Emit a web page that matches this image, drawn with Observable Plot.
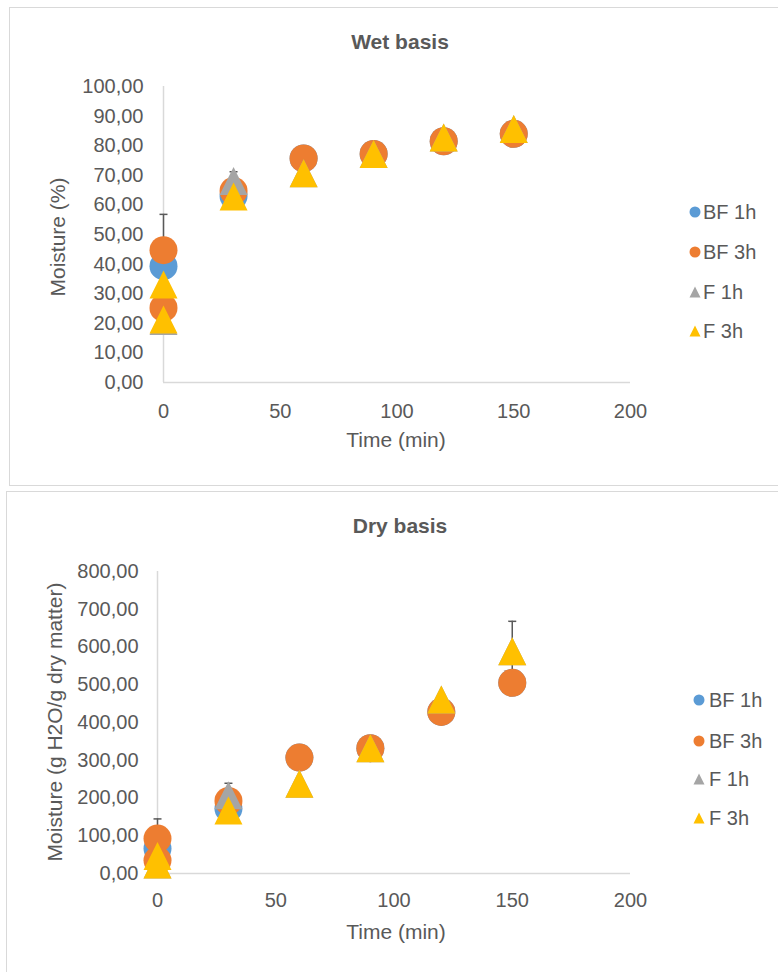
<!DOCTYPE html>
<html>
<head>
<meta charset="utf-8">
<script src="https://cdn.jsdelivr.net/npm/d3@7"></script>
<script src="https://cdn.jsdelivr.net/npm/@observablehq/plot@0.6"></script>
<style>
  html, body { margin: 0; padding: 0; background: #fff; }
  body { width: 778px; height: 972px; overflow: hidden; position: relative;
         font-family: "Liberation Sans", Arial, sans-serif; color: #595959; }
  .box { position: absolute; border: 1.5px solid #d9d9d9; box-sizing: border-box; }
  .txt { position: absolute; white-space: nowrap; line-height: 24px; height: 24px; }
  .plot { position: absolute; left: 0; }
</style>
</head>
<body>
<div class="box" style="left:9px; top:7px; width:800px; height:479px;"></div>
<div class="box" style="left:6px; top:491px; width:800px; height:520px;"></div>
<div id="root"></div>
<script>
// ---------- data ----------
const seriesNames = ["BF 1h", "BF 3h", "F 1h", "F 3h"];
const seriesColors = ["#5B9BD5", "#ED7D31", "#A5A5A5", "#FFC000"];
const seriesShapes = ["circle", "circle", "triangle", "triangle"];

const times = [0, 0, 30, 60, 90, 120, 150];
const xTicks = [0, 50, 100, 150, 200];

// Wet basis (%)
const wetBF1 = [39.3, null, 63.0, 75.7, 77.2, 81.5, 84.0];
const wetBF3 = [44.7, 25.2, 64.7, 75.7, 77.2, 81.5, 84.0];
const wetF1  = [20.8, null, 68.1, 70.7, 77.2, 82.8, 85.6];
const wetF3  = [33.1, 21.3, 62.8, 70.7, 77.2, 82.8, 85.6];
const wetErrBF1 = [null, null, null, null, null, null, null];
const wetErrBF3 = [12.1, null, null, null, null, null, null];
const wetErrF1  = [null, null, 3.1, null, null, null, null];
const wetErrF3  = [null, null, null, null, null, null, null];
const wetYTicks = [0, 10, 20, 30, 40, 50, 60, 70, 80, 90, 100];

// Dry basis (g H2O/g dry matter)
const dryBF1 = [66, null, 172, 307, 332, 428, 505];
const dryBF3 = [92.6, 35, 192, 307, 332, 428, 505];
const dryF1  = [24, null, 207, 238, 332, 461, 589];
const dryF3  = [46.6, 24, 167, 238, 332, 461, 589];
const dryErrBF1 = [null, null, null, null, null, null, null];
const dryErrBF3 = [52, null, null, null, null, null, 163];
const dryErrF1  = [null, null, 32, null, null, null, null];
const dryErrF3  = [null, null, null, null, null, null, null];
const dryYTicks = [0, 100, 200, 300, 400, 500, 600, 700, 800];

// ---------- helpers ----------
const FONT = '"Liberation Sans", Arial, sans-serif';
const fmt = d => d.toFixed(2).replace(".", ",");
const triangle = { draw(ctx, size) { const r = Math.sqrt(size / Math.PI);
  ctx.moveTo(0, -r); ctx.lineTo(r, r); ctx.lineTo(-r, r); ctx.closePath(); } };
const cap = { draw(ctx) { ctx.moveTo(-4, 0); ctx.lineTo(4, 0); } };

function rows(vals, errs) {
  return times.map((t, i) => ({ t, v: vals[i], e: errs[i] })).filter(d => d.v != null);
}

function chart({ series, errs, yDomain, yTicks, top, height, mt, mb, ml, mr, xPad, yPad }) {
  const marks = [
    Plot.ruleY([0], { stroke: "#d9d9d9", strokeWidth: 1.5 }),
    Plot.ruleX([0], { stroke: "#d9d9d9", strokeWidth: 1.5 }),
    Plot.axisX({ ticks: xTicks, tickSize: 0, tickPadding: xPad, label: null, fontSize: 20 }),
    Plot.axisY({ ticks: yTicks, tickSize: 0, tickPadding: yPad, label: null, fontSize: 20, tickFormat: fmt })
  ];
  series.forEach((vals, s) => {
    const data = rows(vals, errs[s]);
    const withErr = data.filter(d => d.e != null);
    marks.push(Plot.ruleX(withErr, { x: "t", y1: "v", y2: d => d.v + d.e, stroke: "#595959", strokeWidth: 1.5 }));
    marks.push(Plot.dot(withErr, { x: "t", y: d => d.v + d.e, symbol: cap, r: 4, fill: "none", stroke: "#595959", strokeWidth: 1.5 }));
    marks.push(Plot.dot(data, { x: "t", y: "v", r: 14, fill: seriesColors[s], stroke: "none",
      symbol: seriesShapes[s] === "circle" ? "circle" : triangle }));
  });
  const svg = Plot.plot({
    width: 778, height,
    marginTop: mt, marginBottom: mb, marginLeft: ml, marginRight: mr,
    x: { domain: [0, 200] },
    y: { domain: yDomain },
    style: { fontFamily: FONT, fontSize: "20px", color: "#595959", background: "transparent", overflow: "visible" },
    marks
  });
  svg.classList.add("plot");
  svg.style.top = top + "px";
  return svg;
}

const root = document.getElementById("root");
function text(str, cx, cy, extra = "") {
  const d = document.createElement("div");
  d.className = "txt";
  d.textContent = str;
  d.style.cssText += `left:${cx}px; top:${cy - 12}px; transform:translateX(-50%); ${extra}`;
  root.appendChild(d);
}
function rotText(str, cx, cy, size) {
  const d = document.createElement("div");
  d.className = "txt";
  d.textContent = str;
  d.style.cssText += `left:${cx}px; top:${cy}px; font-size:${size}px; transform:translate(-50%,-50%) rotate(-90deg);`;
  root.appendChild(d);
}
function legend(x, text0, ys) {
  seriesNames.forEach((name, i) => {
    const y = ys[i];
    const ns = "http://www.w3.org/2000/svg";
    const svg = document.createElementNS(ns, "svg");
    svg.setAttribute("width", 14); svg.setAttribute("height", 14);
    svg.style.cssText = `position:absolute; left:${x - 7}px; top:${y - 7}px;`;
    let shape;
    if (seriesShapes[i] === "circle") {
      shape = document.createElementNS(ns, "circle");
      shape.setAttribute("cx", 7); shape.setAttribute("cy", 7); shape.setAttribute("r", 5.5);
    } else {
      shape = document.createElementNS(ns, "path");
      shape.setAttribute("d", "M7,1.5L12.5,12.5L1.5,12.5Z");
    }
    shape.setAttribute("fill", seriesColors[i]);
    svg.appendChild(shape);
    root.appendChild(svg);
    const d = document.createElement("div");
    d.className = "txt";
    d.textContent = name;
    d.style.cssText += `left:${text0}px; top:${y - 12}px; font-size:20px;`;
    root.appendChild(d);
  });
}

// ---------- wet basis ----------
root.appendChild(chart({
  series: [wetBF1, wetBF3, wetF1, wetF3],
  errs: [wetErrBF1, wetErrBF3, wetErrF1, wetErrF3],
  yDomain: [0, 100], yTicks: wetYTicks,
  top: 0, height: 486, mt: 86, mb: 104, ml: 163, mr: 148, xPad: 21, yPad: 20
}));
text("Wet basis", 400, 42, "font-weight:bold; font-size:21px;");
text("Time (min)", 396, 440, "font-size:21px;");
rotText("Moisture (%)", 58, 237, 21);
legend(695, 703, [212, 252, 292, 331]);

// ---------- dry basis ----------
root.appendChild(chart({
  series: [dryBF1, dryBF3, dryF1, dryF3],
  errs: [dryErrBF1, dryErrBF3, dryErrF1, dryErrF3],
  yDomain: [0, 800], yTicks: dryYTicks,
  top: 490, height: 482, mt: 81, mb: 99, ml: 157, mr: 148, xPad: 19, yPad: 19
}));
text("Dry basis", 400, 526, "font-weight:bold; font-size:21px;");
text("Time (min)", 396, 932, "font-size:21px;");
rotText("Moisture (g H2O/g dry matter)", 55, 722, 21);
legend(699, 709, [700, 741, 779, 818]);
</script>
</body>
</html>
